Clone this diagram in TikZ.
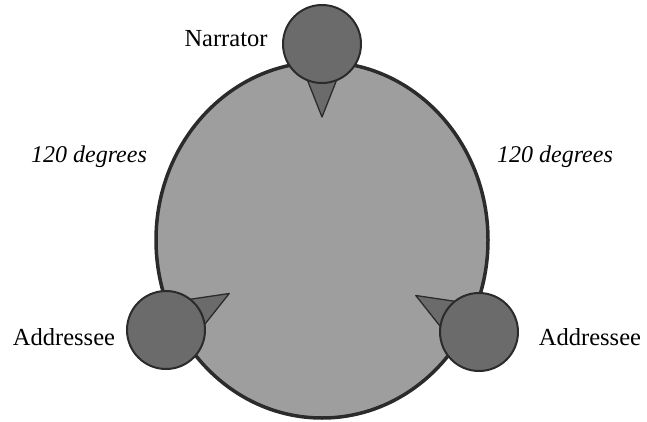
\documentclass[tikz,border=0pt]{standalone}
\usepackage{fontspec}
\setmainfont{Liberation Serif}
\usetikzlibrary{shapes.geometric,calc}
\definecolor{bodygray}{gray}{0.62}
\definecolor{persongray}{gray}{0.42}
\definecolor{rimgray}{gray}{0.17}

\begin{document}
\begin{tikzpicture}[
  x=1pt, y=-1pt,
  font=\fontsize{24.5}{28}\selectfont,
  body/.style={ellipse, draw=rimgray, line width=3.5pt, fill=bodygray,
    minimum width=332pt, minimum height=356pt, inner sep=0pt},
  person/.style={circle, draw=rimgray, line width=2pt, fill=persongray,
    minimum size=78pt, inner sep=0pt},
  pointer/.style={draw=rimgray, line width=1.3pt, fill=persongray, line join=round},
  role/.style={anchor=base, inner sep=0pt},
  angle label/.style={role, font=\fontsize{24}{28}\selectfont\itshape}
]
\useasboundingbox (0,0) rectangle (647,422);
\node[body] (circle) at (322,240) {};
\coordinate (narpos) at (322,44);
\coordinate (leftpos) at (166,330);
\coordinate (rightpos) at (479,332);
% pointers toward the centre
\foreach \who/\ang in {narpos/90, leftpos/-30, rightpos/210}
  \draw[pointer] ($(\who)+(\ang:73)$) -- ($(\who)+(\ang:30)+({\ang+90}:17)$)
    -- ($(\who)+(\ang:30)+({\ang-90}:17)$) -- cycle;
\node[person] (narrator) at (narpos) {};
\node[person] (addrleft) at (leftpos) {};
\node[person] (addrright) at (rightpos) {};

\node[role] (narlabel) at (226,47) {Narrator};
\node[role] (leftlabel) at (64,345) {Addressee};
\node[role] (rightlabel) at (590,345) {Addressee};
\node[angle label] (leftangle) at (89,163) {120 degrees};
\node[angle label] (rightangle) at (555,163) {120 degrees};
\end{tikzpicture}
\end{document}
